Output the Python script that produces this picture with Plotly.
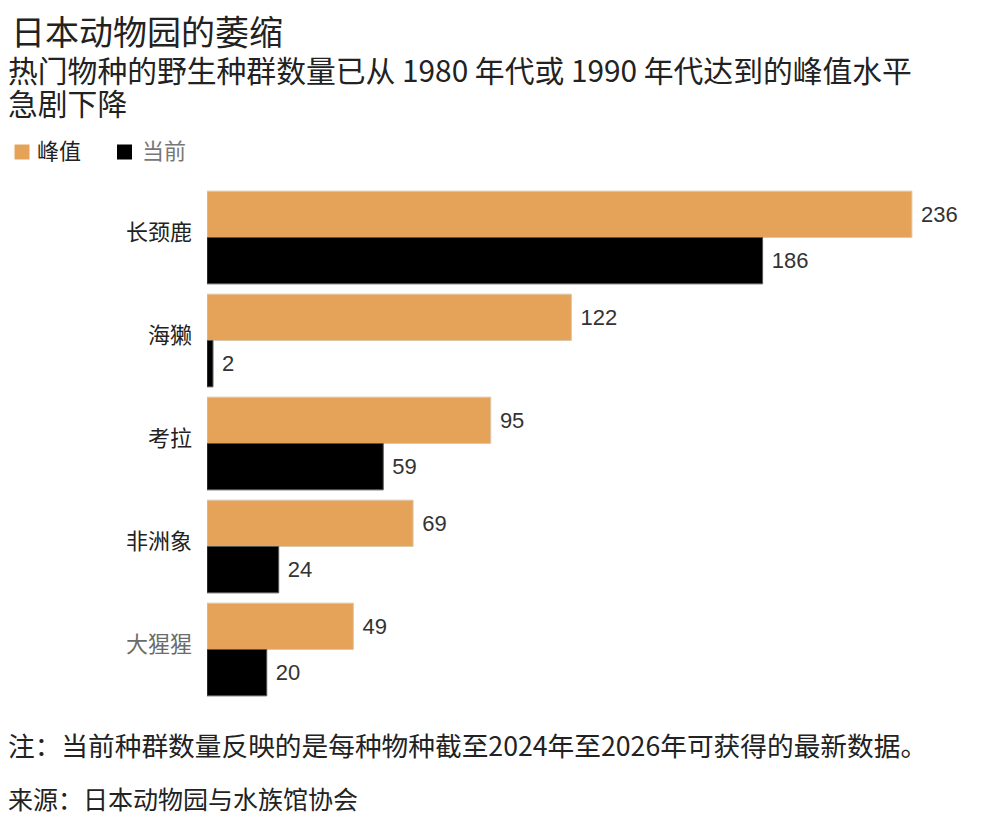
import plotly.graph_objects as go

# 数据
species = ["长颈鹿", "海獭", "考拉", "非洲象", "大猩猩"]
peak = [236, 122, 95, 69, 49]
current = [186, 2, 59, 24, 20]

cjk = "Noto Sans CJK SC"
orange = "#E5A35A"
ink = "#222222"

# 画布尺寸 (页面 body 有 8px 边距)
W, H = 984, 809
L, R, T, B = 199, 12, 178, 116
PW, PH = W - L - R, H - T - B


def px(x):
    # 像素 -> paper 坐标
    return (x - L) / PW


def py(y):
    return (H - B - y) / PH


# 大猩猩 标签是灰色
tick_text = [s if s != "大猩猩" else "<span style='color:#6b6b6b'>大猩猩</span>" for s in species]

fig = go.Figure()

fig.add_trace(go.Bar(
    y=species, x=peak, orientation="h", name="峰值",
    marker=dict(color=orange, line=dict(color="#dcc9a9", width=1)),
    text=peak, texttemplate="&nbsp;%{x}", textposition="outside",
    textfont=dict(family="Liberation Sans, Arial", size=22, color="#333333"),
    cliponaxis=False,
))
fig.add_trace(go.Bar(
    y=species, x=current, orientation="h", name="当前",
    marker=dict(color="#000000", line=dict(color="#555555", width=1)),
    text=current, texttemplate="&nbsp;%{x}", textposition="outside",
    textfont=dict(family="Liberation Sans, Arial", size=22, color="#333333"),
    cliponaxis=False,
))

# 手工图例
shapes = [
    dict(type="rect", xref="paper", yref="paper", x0=px(6.5), x1=px(21.5),
         y0=py(151.5), y1=py(136.5), fillcolor=orange, line=dict(width=0)),
    dict(type="rect", xref="paper", yref="paper", x0=px(109), x1=px(124),
         y0=py(151.5), y1=py(136.5), fillcolor="#000000", line=dict(width=0)),
]


def label(text, x, y, size, color=ink):
    return dict(text=text, xref="paper", yref="paper", x=px(x), y=py(y),
                xanchor="left", yanchor="middle", align="left", showarrow=False,
                font=dict(family=cjk, size=size, color=color))


annotations = [
    label("日本动物园的萎缩", 1, 22, 34),
    label("热门物种的野生种群数量已从 1980 年代或 1990 年代达到的峰值水平", -2, 61, 29.8),
    label("急剧下降", -2, 94, 29.8),
    label("峰值", 27, 140.5, 22),
    label("当前", 132, 140.5, 22, "#777777"),
    label("注：当前种群数量反映的是每种物种截至2024年至2026年可获得的最新数据。", -2, 736, 26.7),
    label("来源：日本动物园与水族馆协会", -2, 790, 25),
]

fig.update_layout(
    width=W, height=H,
    barmode="group", bargap=0.1, bargroupgap=0,
    plot_bgcolor="white", paper_bgcolor="white",
    font=dict(family=cjk, color=ink),
    margin=dict(l=L, r=R, t=T, b=B),
    showlegend=False,
    xaxis=dict(range=[0, PW / 2.987], visible=False),
    yaxis=dict(autorange="reversed", tickvals=species, ticktext=tick_text,
               ticks="", showline=False, showgrid=False,
               ticklabelstandoff=14, ticklabelshift=5,
               tickfont=dict(family=cjk, size=22, color=ink)),
    shapes=shapes,
    annotations=annotations,
)

fig.write_html("out.html")
